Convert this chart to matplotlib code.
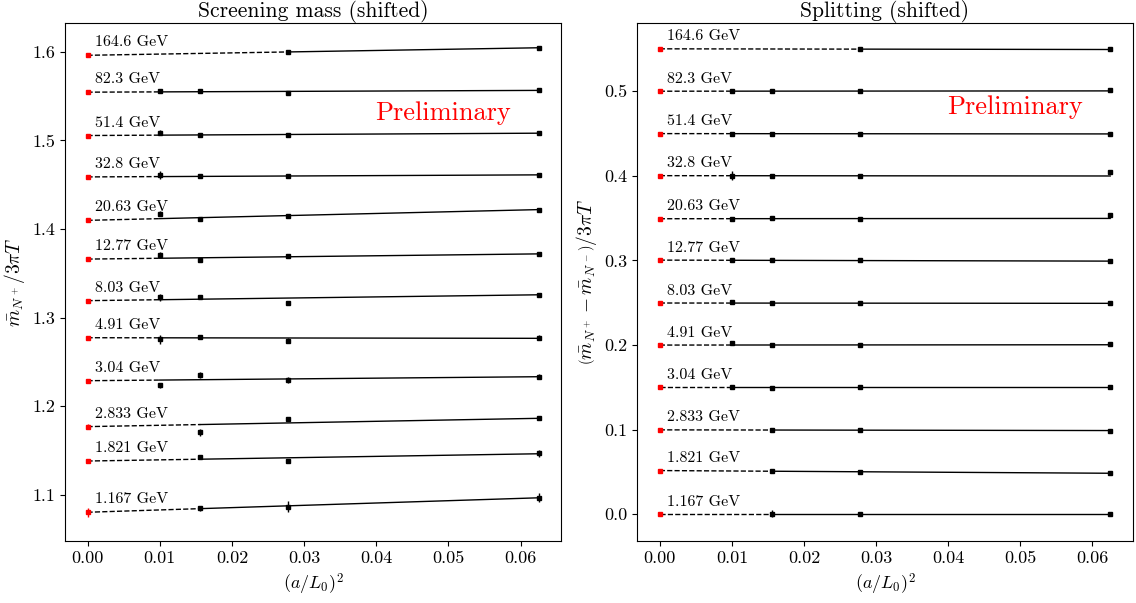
import numpy as np
import matplotlib
matplotlib.use("Agg")
import matplotlib.pyplot as plt

plt.rcParams["font.family"] = "serif"
plt.rcParams["font.serif"] = ["cmr10"]
plt.rcParams["mathtext.fontset"] = "cm"
plt.rcParams["axes.formatter.use_mathtext"] = True

nan = np.nan

# temperatures (labels), top to bottom
temps = ["164.6", "82.3", "51.4", "32.8", "20.63", "12.77",
         "8.03", "4.91", "3.04", "2.833", "1.821", "1.167"]

# lattice sizes L0/a -> x = (a/L0)^2
L0_over_a = np.array([10, 8, 6, 4])

# screening mass (shifted), columns follow L0_over_a
mass = np.array([
    [nan, nan, 1.6000, 1.6045],
    [1.5556, 1.5559, 1.5529, 1.5571],
    [1.5089, 1.5058, 1.5066, 1.5085],
    [1.4606, 1.4595, 1.4599, 1.4615],
    [1.4173, 1.4113, 1.4147, 1.4219],
    [1.3710, 1.3653, 1.3691, 1.3722],
    [1.3229, 1.3237, 1.3162, 1.3260],
    [1.2756, 1.2786, 1.2741, 1.2774],
    [1.2237, 1.2353, 1.2297, 1.2334],
    [nan, 1.1707, 1.1853, 1.1865],
    [nan, 1.1425, 1.1387, 1.1469],
    [nan, 1.0850, 1.0868, 1.0968],
])
mass_err = np.array([
    [nan, nan, 0.0015, 0.0012],
    [0.0015, 0.0012, 0.0015, 0.0012],
    [0.003, 0.001, 0.001, 0.001],
    [0.0045, 0.0015, 0.0015, 0.0012],
    [0.003, 0.0015, 0.0015, 0.0012],
    [0.003, 0.0015, 0.0015, 0.0012],
    [0.004, 0.002, 0.002, 0.0015],
    [0.005, 0.0015, 0.003, 0.003],
    [0.003, 0.003, 0.003, 0.003],
    [nan, 0.004, 0.002, 0.0015],
    [nan, 0.0015, 0.002, 0.004],
    [nan, 0.003, 0.006, 0.005],
])
# continuum values and fit slopes
mass_cont = [1.5960, 1.5544, 1.5055, 1.4588, 1.4098, 1.3661,
             1.3192, 1.2774, 1.2289, 1.1771, 1.1383, 1.0805]
mass_cont_err = [0.0015, 0.001, 0.001, 0.001, 0.001, 0.001,
                 0.0015, 0.0015, 0.0015, 0.003, 0.002, 0.005]
mass_slope = [0.136, 0.032, 0.042, 0.037, 0.194, 0.094,
              0.106, -0.011, 0.072, 0.150, 0.131, 0.261]

# splitting (shifted)
split = np.array([
    [nan, nan, 0.5501, 0.5493],
    [0.5000, 0.5000, 0.5000, 0.5012],
    [0.4499, 0.4499, 0.4499, 0.4495],
    [0.4002, 0.4002, 0.4002, 0.4049],
    [0.3493, 0.3497, 0.3493, 0.3537],
    [0.3004, 0.3000, 0.3008, 0.2992],
    [0.2505, 0.2497, 0.2497, 0.2493],
    [0.2028, 0.2000, 0.2000, 0.2008],
    [0.1503, 0.1495, 0.1503, 0.1503],
    [nan, 0.0998, 0.0998, 0.0990],
    [nan, 0.0509, 0.0497, 0.0485],
    [nan, 0.0008, 0.0004, 0.0004],
])
split_err = np.array([
    [nan, nan, 0.001, 0.001],
    [0.001, 0.001, 0.001, 0.001],
    [0.001, 0.001, 0.001, 0.002],
    [0.005, 0.001, 0.001, 0.002],
    [0.001, 0.001, 0.001, 0.002],
    [0.001, 0.001, 0.001, 0.001],
    [0.001, 0.001, 0.001, 0.001],
    [0.001, 0.001, 0.001, 0.001],
    [0.001, 0.001, 0.001, 0.001],
    [nan, 0.001, 0.001, 0.001],
    [nan, 0.001, 0.001, 0.001],
    [nan, 0.004, 0.001, 0.001],
])
split_cont = [0.5501, 0.5000, 0.4499, 0.4002, 0.3493, 0.3004,
              0.2497, 0.2000, 0.1499, 0.0998, 0.0517, 0.0004]
split_cont_err = [0.001] * 12
split_slope = [-0.013, 0.006, -0.006, -0.006, 0.006, -0.019,
               -0.006, 0.006, 0.0, -0.013, -0.051, 0.0]

x = 1.0 / L0_over_a**2


def draw_panel(ax, vals, errs, cont, cont_err, slope):
    for i, t in enumerate(temps):
        ok = ~np.isnan(vals[i])
        xs = x[ok]
        x_first = xs.min()
        c, m = cont[i], slope[i]
        # extrapolation to the continuum
        ax.plot([0, x_first], [c, c + m * x_first], "k--", lw=1)
        ax.plot([x_first, x.max()], [c + m * x_first, c + m * x.max()], "k-", lw=1)
        ax.errorbar(xs, vals[i][ok], yerr=errs[i][ok], fmt="s", color="k",
                    ms=3.3, elinewidth=1, capsize=0)
        ax.errorbar([0], [c], yerr=[cont_err[i]], fmt="s", color="red",
                    ms=3.3, elinewidth=1, capsize=0)
        ax.text(0.001, c + 0.01, f"{t} GeV", fontsize=11.5, va="baseline", ha="left")
    ax.set_xlim(-0.003125, 0.065625)
    ax.set_xticks([0.0, 0.01, 0.02, 0.03, 0.04, 0.05, 0.06])
    ax.set_xticklabels(["0.00", "0.01", "0.02", "0.03", "0.04", "0.05", "0.06"])
    ax.tick_params(labelsize=13)
    ax.set_xlabel(r"$(a/L_0)^2$", fontsize=13)


fig = plt.figure(figsize=(11.36, 6.03), dpi=100)
ax1 = fig.add_axes([0.0572, 0.1033, 0.4369, 0.8591])
ax2 = fig.add_axes([0.5610, 0.1033, 0.4361, 0.8591])

draw_panel(ax1, mass, mass_err, mass_cont, mass_cont_err, mass_slope)
ax1.set_ylim(1.0484, 1.6328)
ax1.set_yticks([1.1, 1.2, 1.3, 1.4, 1.5, 1.6])
ax1.set_yticklabels(["1.1", "1.2", "1.3", "1.4", "1.5", "1.6"])
ax1.set_ylabel(r"$\bar{m}_{N^+}/3\pi T$", fontsize=14)
ax1.set_title("Screening mass (shifted)", fontsize=15.5, pad=3)
ax1.text(0.0493, 1.5307, "Preliminary", color="red", fontsize=19,
         ha="center", va="center")

draw_panel(ax2, split, split_err, split_cont, split_cont_err, split_slope)
ax2.set_ylim(-0.0312, 0.581)
ax2.set_yticks([0.0, 0.1, 0.2, 0.3, 0.4, 0.5])
ax2.set_yticklabels(["0.0", "0.1", "0.2", "0.3", "0.4", "0.5"])
ax2.set_ylabel(r"$\left(\bar{m}_{N^+}-\bar{m}_{N^-}\right)/3\pi T$", fontsize=14)
ax2.set_title("Splitting (shifted)", fontsize=15.5, pad=3)
ax2.text(0.0493, 0.4807, "Preliminary", color="red", fontsize=19,
         ha="center", va="center")

fig.savefig("out.png", dpi=100)
